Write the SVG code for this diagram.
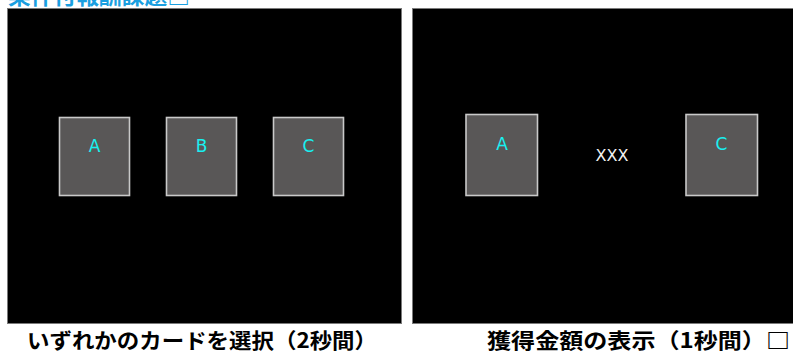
<svg xmlns="http://www.w3.org/2000/svg" width="793" height="354" viewBox="0 0 793 354">
<style>
.panel{fill:#000;stroke:#7a7a7a;stroke-width:1}
.card{fill:#595757;stroke:#c9c9c9;stroke-width:1.6}
.lbl{font-family:"DejaVu Sans","Noto Sans",sans-serif;font-size:17px;fill:#18f0f0;text-anchor:middle}
.xxx{font-family:"DejaVu Sans","Noto Sans",sans-serif;font-size:16px;fill:#f2f2f2;text-anchor:middle}
.cap{font-family:"Noto Sans CJK JP","Noto Sans",sans-serif;font-weight:bold;font-size:21px;fill:#000}
.ttl{font-family:"Noto Sans CJK JP","Noto Sans",sans-serif;font-weight:bold;font-size:22px;fill:#1a9fe0}
</style>
<rect width="793" height="354" fill="#fff"/>
<text class="ttl" x="8" y="4" textLength="182" lengthAdjust="spacingAndGlyphs">条件付報酬課題□</text>
<g id="panel-left">
<rect class="panel" x="7.5" y="8.5" width="394" height="315"/>
</g>
<g id="panel-right">
<rect class="panel" x="412.5" y="8.5" width="385" height="315"/>
</g>
<g id="card-A1"><rect class="card" x="59.5" y="117.5" width="70" height="78"/><text class="lbl" x="94.5" y="152">A</text></g>
<g id="card-B1"><rect class="card" x="166.5" y="117.5" width="70" height="78"/><text class="lbl" x="201.5" y="152">B</text></g>
<g id="card-C1"><rect class="card" x="273.5" y="117.5" width="70" height="78"/><text class="lbl" x="308.5" y="152">C</text></g>
<g id="card-A2"><rect class="card" x="466" y="114.5" width="71.5" height="81"/><text class="lbl" x="502" y="150">A</text></g>
<g id="amount"><text class="xxx" x="612" y="161">XXX</text></g>
<g id="card-C2"><rect class="card" x="686" y="114.5" width="71.5" height="81"/><text class="lbl" x="721.5" y="150">C</text></g>
<g id="connectors"></g>
<text class="cap" x="27" y="348" textLength="350" lengthAdjust="spacingAndGlyphs">いずれかのカードを選択（2秒間）</text>
<text class="cap" x="487" y="348" textLength="303" lengthAdjust="spacingAndGlyphs">獲得金額の表示（1秒間）□</text>
</svg>
